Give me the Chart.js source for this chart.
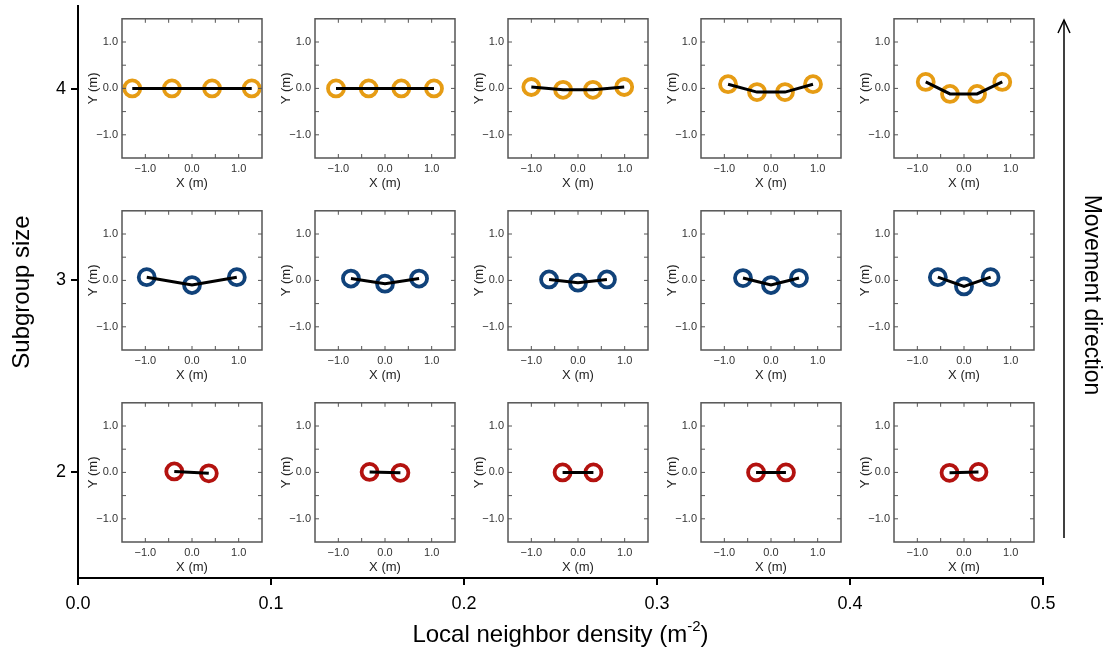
<!DOCTYPE html>
<html>
<head>
<meta charset="utf-8">
<script src="https://cdn.jsdelivr.net/npm/chart.js@4.4.1/dist/chart.umd.min.js"></script>
<style>
  body { margin: 0; background: #fff; }
  #wrap { position: relative; width: 1108px; height: 655px; }
  .inset { position: absolute; }
</style>
</head>
<body>
<div id="wrap"><canvas id="main" width="1108" height="655"></canvas></div>
<script>
// outer axes
const densityLevels = [0.059, 0.159, 0.259, 0.359, 0.459];
const subgroupSizes = [2, 3, 4];
const densityTicks = [0.0, 0.1, 0.2, 0.3, 0.4, 0.5];

// pedestrian positions (m), one entry per density level
const pairX = [[-0.38, 0.36], [-0.33, 0.33], [-0.33, 0.33], [-0.32, 0.32], [-0.31, 0.31]];
const pairY = [[0.02, -0.02], [0.01, -0.01], [0.0, 0.0], [0.0, 0.0], [-0.01, 0.01]];

const trioX = [[-0.97, 0.0, 0.96], [-0.73, 0.0, 0.73], [-0.62, 0.0, 0.62], [-0.6, 0.0, 0.6], [-0.56, 0.0, 0.57]];
const trioY = [[0.07, -0.1, 0.07], [0.04, -0.07, 0.04], [0.02, -0.05, 0.02], [0.05, -0.1, 0.05], [0.07, -0.13, 0.07]];

const quadX = [[-1.28, -0.43, 0.43, 1.28], [-1.05, -0.35, 0.35, 1.05], [-1.0, -0.32, 0.32, 0.99], [-0.92, -0.3, 0.3, 0.9], [-0.82, -0.3, 0.28, 0.82]];
const quadY = [[0.0, 0.0, 0.0, 0.0], [0.0, 0.0, 0.0, 0.0], [0.03, -0.03, -0.03, 0.03], [0.09, -0.08, -0.08, 0.09], [0.14, -0.12, -0.12, 0.14]];

const insetTicks = [-1.5, -1.0, -0.5, 0.0, 0.5, 1.0, 1.5];

const groupColors = { 2: '#B3120F', 3: '#10427A', 4: '#E69C14' };
const groupX = { 2: pairX, 3: trioX, 4: quadX };
const groupY = { 2: pairY, 3: trioY, 4: quadY };

const FONT = '"Liberation Sans", Arial, sans-serif';
Chart.defaults.font.family = FONT;

// arrow + label on the right side
const directionArrow = {
    id: 'directionArrow',
    afterDraw(chart) {
        const { ctx, chartArea } = chart;
        const x = chartArea.right + 21;
        const top = 20, bottom = 538;
        ctx.save();
        ctx.strokeStyle = '#000';
        ctx.lineWidth = 1.5;
        ctx.beginPath();
        ctx.moveTo(x, bottom);
        ctx.lineTo(x, top);
        ctx.stroke();
        ctx.beginPath();
        ctx.moveTo(x - 6, top + 13);
        ctx.lineTo(x, top);
        ctx.lineTo(x + 6, top + 13);
        ctx.stroke();
        ctx.translate(x + 27, 295);
        ctx.rotate(Math.PI / 2);
        ctx.font = '23px ' + FONT;
        ctx.fillStyle = '#000';
        ctx.textAlign = 'center';
        ctx.textBaseline = 'middle';
        ctx.fillText('Movement direction', 0, 0);
        ctx.restore();
    }
};

// x title with superscript unit
const densityTitle = {
    id: 'densityTitle',
    afterDraw(chart) {
        const { ctx, chartArea } = chart;
        const main = 'Local neighbor density (m';
        const sup = '-2';
        const tail = ')';
        ctx.save();
        ctx.fillStyle = '#000';
        ctx.textBaseline = 'middle';
        ctx.textAlign = 'left';
        ctx.font = '24px ' + FONT;
        const w1 = ctx.measureText(main).width;
        const w3 = ctx.measureText(tail).width;
        ctx.font = '15px ' + FONT;
        const w2 = ctx.measureText(sup).width;
        let x = (chartArea.left + chartArea.right) / 2 - (w1 + w2 + w3) / 2;
        const y = 635;
        ctx.font = '24px ' + FONT;
        ctx.fillText(main, x, y);
        x += w1;
        ctx.font = '15px ' + FONT;
        ctx.fillText(sup, x, y - 8);
        x += w2;
        ctx.font = '24px ' + FONT;
        ctx.fillText(tail, x, y);
        ctx.restore();
    }
};

const mainChart = new Chart(document.getElementById('main'), {
    type: 'scatter',
    data: { datasets: [{ data: [] }] },
    options: {
        responsive: false,
        animation: false,
        layout: { padding: { left: 0, right: 65, top: 6, bottom: 0 } },
        plugins: { legend: { display: false }, tooltip: { enabled: false } },
        scales: {
            x: {
                type: 'linear',
                min: 0,
                max: 0.5,
                afterFit: s => { s.height = 77; s.paddingLeft = 0; s.paddingRight = 0; },
                afterBuildTicks: s => { s.ticks = densityTicks.map(v => ({ value: v })); },
                border: { color: '#000', width: 2 },
                grid: { drawOnChartArea: false, drawTicks: true, tickLength: 7, color: '#000', lineWidth: 2 },
                ticks: { color: '#000', font: { size: 18 }, padding: 8, callback: v => v.toFixed(1) }
            },
            y: {
                type: 'linear',
                min: 1.45,
                max: 4.43,
                afterFit: s => { s.width = 78; s.paddingTop = 0; s.paddingBottom = 0; },
                afterBuildTicks: s => { s.ticks = subgroupSizes.map(v => ({ value: v })); },
                border: { color: '#000', width: 2 },
                grid: { drawOnChartArea: false, drawTicks: true, tickLength: 7, color: '#000', lineWidth: 2 },
                ticks: { color: '#000', font: { size: 18 }, padding: 5, callback: v => String(v) },
                title: { display: true, text: 'Subgroup size', color: '#000', font: { size: 24 }, padding: 8 }
            }
        }
    },
    plugins: [directionArrow, densityTitle]
});

// frame and inward ticks of a small panel
const insetFrame = {
    id: 'insetFrame',
    afterDraw(chart) {
        const { ctx, chartArea: a, scales } = chart;
        ctx.save();
        ctx.strokeStyle = '#555';
        ctx.lineWidth = 1;
        insetTicks.slice(1, -1).forEach(v => {
            const px = scales.x.getPixelForValue(v);
            const py = scales.y.getPixelForValue(v);
            ctx.beginPath();
            ctx.moveTo(px, a.bottom); ctx.lineTo(px, a.bottom - 4);
            ctx.moveTo(px, a.top); ctx.lineTo(px, a.top + 4);
            ctx.moveTo(a.left, py); ctx.lineTo(a.left + 4, py);
            ctx.moveTo(a.right, py); ctx.lineTo(a.right - 4, py);
            ctx.stroke();
        });
        ctx.lineWidth = 1.5;
        ctx.strokeRect(a.left, a.top, a.right - a.left, a.bottom - a.top);
        ctx.restore();
    }
};

function insetAxis(title, fitKey, fitSize) {
    return {
        type: 'linear',
        min: -1.5,
        max: 1.5,
        afterFit: s => { s[fitKey] = fitSize; },
        afterBuildTicks: s => { s.ticks = insetTicks.map(v => ({ value: v })); },
        border: { display: false },
        grid: { display: false, drawTicks: false },
        ticks: {
            autoSkip: false,
            maxRotation: 0,
            color: '#333',
            font: { size: 11 },
            padding: 4,
            callback: v => Number.isInteger(v) ? v.toFixed(1).replace('-', '\u2212') : ''
        },
        title: { display: true, text: title, color: '#222', font: { size: 13 }, padding: 0 }
    };
}

const wrap = document.getElementById('wrap');

subgroupSizes.forEach(size => {
    densityLevels.forEach((density, j) => {
        const xs = groupX[size][j];
        const ys = groupY[size][j];
        const pts = xs.map((x, k) => ({ x: x, y: ys[k] }));

        const box = document.createElement('div');
        box.className = 'inset';
        const canvas = document.createElement('canvas');
        canvas.width = 190;
        canvas.height = 184;
        box.appendChild(canvas);
        wrap.appendChild(box);

        const inset = new Chart(canvas, {
            type: 'scatter',
            data: {
                datasets: [
                    { data: pts, showLine: true, borderColor: '#000', borderWidth: 3, pointRadius: 0, tension: 0 },
                    { data: pts, pointRadius: 8, pointBorderWidth: 3.8, pointBorderColor: groupColors[size], pointBackgroundColor: 'rgba(0,0,0,0)' }
                ]
            },
            options: {
                responsive: false,
                animation: false,
                events: [],
                layout: { padding: { left: 0, right: 14, top: 10, bottom: 0 } },
                plugins: { legend: { display: false }, tooltip: { enabled: false } },
                scales: {
                    x: insetAxis('X (m)', 'height', 33),
                    y: insetAxis('Y (m)', 'width', 36)
                }
            },
            plugins: [insetFrame]
        });

        // centre the panel's origin on its (density, size) spot
        const cx = mainChart.scales.x.getPixelForValue(density);
        const cy = mainChart.scales.y.getPixelForValue(size);
        box.style.left = (cx - inset.scales.x.getPixelForValue(0)) + 'px';
        box.style.top = (cy - inset.scales.y.getPixelForValue(0)) + 'px';
    });
});
</script>
</body>
</html>
